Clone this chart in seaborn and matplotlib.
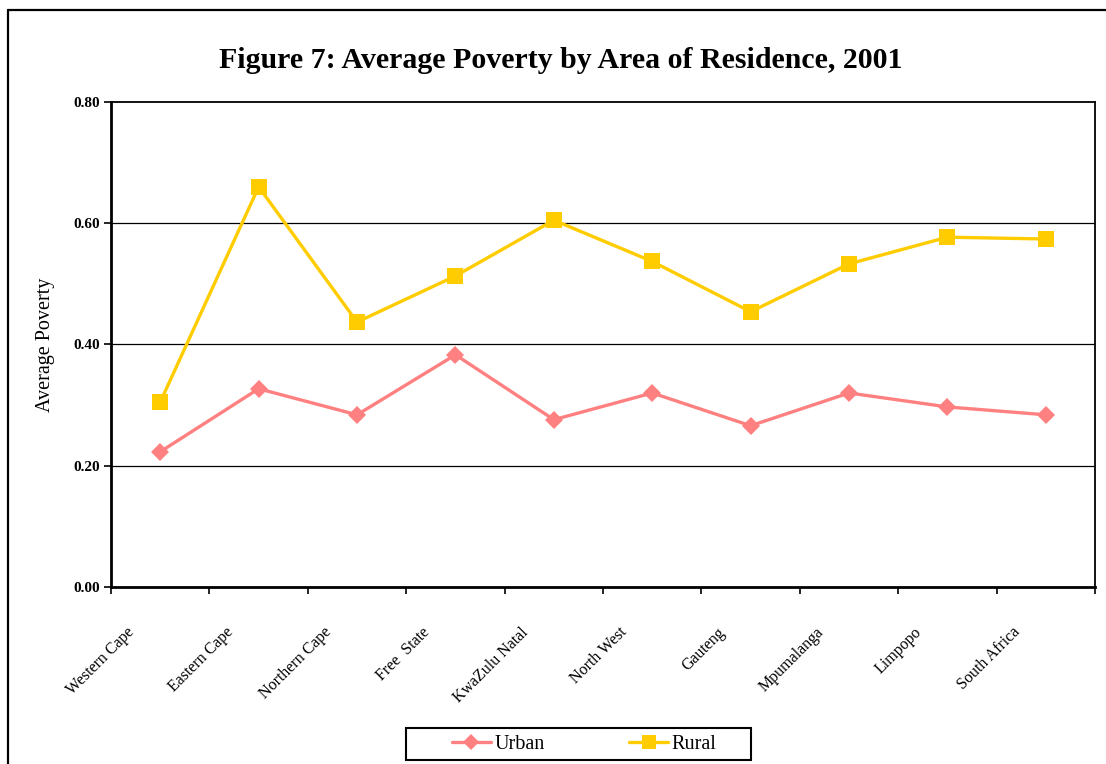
import numpy as np
import pandas as pd
import matplotlib
matplotlib.use("Agg")
import matplotlib.pyplot as plt
import matplotlib.transforms as mtransforms
from matplotlib.lines import Line2D
from matplotlib.patches import Rectangle
import seaborn as sns

categories = ["Western Cape", "Eastern Cape", "Northern Cape", "Free  State", "KwaZulu Natal",
              "North West", "Gauteng", "Mpumalanga", "Limpopo", "South Africa"]
urban = [0.223, 0.327, 0.284, 0.383, 0.276, 0.320, 0.266, 0.320, 0.297, 0.284]
rural = [0.305, 0.660, 0.437, 0.513, 0.605, 0.537, 0.454, 0.533, 0.577, 0.574]
yticks = [0.0, 0.2, 0.4, 0.6, 0.8]

sns.set_theme(style="white")
plt.rcParams['font.family'] = ['Liberation Serif', 'DejaVu Serif']
plt.rcParams['text.color'] = 'black'
plt.rcParams['axes.labelcolor'] = 'black'
plt.rcParams['xtick.color'] = 'black'
plt.rcParams['ytick.color'] = 'black'

df = pd.DataFrame({
    "pos": list(range(len(categories))) * 2,
    "value": urban + rural,
    "Area": ["Urban"] * len(categories) + ["Rural"] * len(categories),
})

fig = plt.figure(figsize=(11.06, 7.64), dpi=100)
ax = fig.add_axes([0.1004, 0.2317, 0.8897, 0.6348])

palette = {"Urban": "#FF8080", "Rural": "#FFCC00"}
markers = {"Urban": "D", "Rural": "s"}
msize = {"Urban": 9.5, "Rural": 11}
for name in ["Urban", "Rural"]:
    sub = df[df["Area"] == name]
    sns.lineplot(data=sub, x="pos", y="value", ax=ax, color=palette[name],
                 marker=markers[name], markersize=msize[name],
                 markeredgewidth=0, linewidth=2.4, sort=False, label=name,
                 legend=False)

ax.set_xlim(-0.5, len(categories) - 0.5)
ax.set_ylim(0, 0.8)
ax.set_yticks(yticks)
ax.set_yticklabels([f"{v:.2f}" for v in yticks], fontsize=11, fontweight="bold")
for v in yticks[1:-1]:
    ax.axhline(v, color="black", linewidth=0.9, zorder=0)

ax.set_xticks(np.arange(len(categories)))
ax.set_xticklabels(categories, rotation=45, ha="right", va="center",
                   rotation_mode="anchor", fontsize=11.5)
ax.set_xticks(np.arange(len(categories) + 1) - 0.5, minor=True)
ax.tick_params(axis="x", which="major", length=0, pad=0)
ax.tick_params(axis="x", which="minor", length=5, width=1.2, color="black", direction="out", bottom=True)
ax.tick_params(axis="y", length=5, width=1.2, color="black", direction="out", left=True, pad=3)
offset = mtransforms.ScaledTranslation(-28 / 100, -43 / 100, fig.dpi_scale_trans)
for lbl in ax.get_xticklabels():
    lbl.set_transform(lbl.get_transform() + offset)

ax.set_xlabel("")
ax.set_ylabel("Average Poverty", fontsize=14.5, labelpad=13)

for s in ["left", "bottom"]:
    ax.spines[s].set_color("black")
    ax.spines[s].set_linewidth(2.0)
for s in ["top", "right"]:
    ax.spines[s].set_color("black")
    ax.spines[s].set_linewidth(1.3)

fig.text(0.5066, 0.921, "Figure 7: Average Poverty by Area of Residence, 2001",
         ha="center", va="center", fontsize=21.5, fontweight="bold", color="black")

handles = [Line2D([0], [0], color=palette[n], marker=markers[n],
                  markersize=8.5 if n == "Urban" else 10, markeredgewidth=0, linewidth=2.4)
           for n in ["Urban", "Rural"]]
leg = fig.legend(handles, ["Urban", "Rural"], loc="center",
                 bbox_to_anchor=(584.5 / 1106, 1 - 744 / 764), ncol=2, frameon=False,
                 fontsize=14.5, handlelength=1.9, handletextpad=0.2, columnspacing=4.2,
                 borderpad=0.0, borderaxespad=0)

fig.add_artist(Rectangle((406 / 1106, 1 - 760 / 764), 345 / 1106, 32 / 764,
                         transform=fig.transFigure, fill=False, edgecolor="black", linewidth=1.5))
fig.add_artist(Line2D([8 / 1106, 8 / 1106], [0, 1 - 10 / 764], transform=fig.transFigure,
                      color="black", linewidth=1.6))
fig.add_artist(Line2D([8 / 1106, 1], [1 - 10 / 764, 1 - 10 / 764], transform=fig.transFigure,
                      color="black", linewidth=1.6))

fig.savefig("out.png", dpi=100)
